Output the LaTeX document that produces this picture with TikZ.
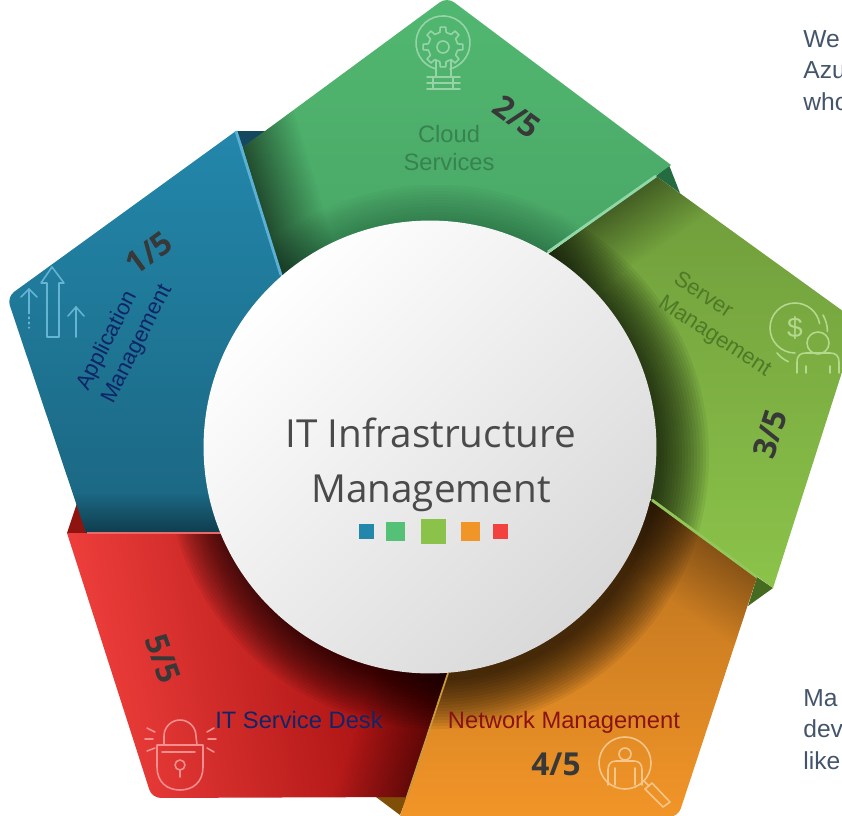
\documentclass[tikz,border=0pt]{standalone}
\usepackage{fontspec}
\setmainfont{Liberation Sans}
\newfontfamily\hubfont{Open Sans}
\usepackage{tikz}
\usetikzlibrary{fadings}
\usetikzlibrary{positioning}
\definecolor{bluepad}{HTML}{2387AB}
\definecolor{greenpad}{HTML}{55C176}
\definecolor{olivepad}{HTML}{8BC34A}
\definecolor{orangepad}{HTML}{F29528}
\definecolor{redpad}{HTML}{F2413E}
\definecolor{navytext}{HTML}{0F2568}
\definecolor{sidetext}{HTML}{44546A}
\definecolor{hubtext}{HTML}{4A4A4A}
\definecolor{counttext}{HTML}{383838}
\tikzfading[name=edgefade, top color=transparent!0, bottom color=transparent!100]
\tikzstyle{label} = [align=left, inner sep=0pt, font=\fontsize{12.6}{16}\selectfont]
\tikzstyle{count} = [inner sep=0pt, text=counttext, font=\hubfont\bfseries\fontsize{18}{20}\selectfont]
\tikzstyle{side} = [align=left, anchor=north west, inner sep=0pt, text=sidetext, font=\fontsize{14}{18}\selectfont]
\tikzstyle{pad} = [rectangle, inner sep=0pt]
\tikzstyle{icon} = [line width=0.9pt, line cap=round, line join=round]
\tikzstyle{strip} = [line width=1.6pt]
\tikzstyle{shadow} = [black, path fading=edgefade]
\tikzstyle{ring} = [black, opacity=0.06]
\begin{document}
\begin{tikzpicture}[x=0.02cm, y=-0.02cm]
        \useasboundingbox (0,0) rectangle (842,815);
        \clip (0,0) rectangle (842,815);
        % flaps
        \fill [color={rgb,255:red,21;green,72;blue,95}] (236,131) -- (268,131) -- (243,148) -- cycle;
        \fill [color={rgb,255:red,37;green,107;blue,65}] (669,165) -- (656,176) -- (680,193) -- cycle;
        \fill [color={rgb,255:red,69;green,107;blue,32}] (757,577) -- (773,588) -- (748,606) -- cycle;
        \fill [color={rgb,255:red,127;green,78;blue,7}] (376,797) -- (407,797) -- (400,815) -- cycle;
        \fill [color={rgb,255:red,143;green,20;blue,16}] (67,533) -- (77,503) -- (87,533) -- cycle;
        % red
        \begin{scope}
                \clip (67,533) [rounded corners=5pt] -- (152,798) [sharp corners] -- (407,797) -- (480,580) -- (480,533) -- cycle;
                \shade [left color=redpad, right color=red!55!black!95!redpad, shading angle=100] (60,530) rectangle (480,800);
                \foreach \r in {224,227,...,272}
                        \fill [ring] (437,457) circle (\r);
                \fill [shadow, opacity=0.4, transform canvas={shift={(400,815)}, rotate=-108.7}] (-180,0) rectangle (30,70);
        \end{scope}
        % orange
        \begin{scope}
                \clip (652,500) -- (757,577) [rounded corners=5pt] -- (678,817) [sharp corners] -- (400,816) -- (448,673) -- (500,560) -- cycle;
                \shade [top color=orangepad!75!black, bottom color=orangepad] (400,500) rectangle (760,816);
                \foreach \r in {224,227,...,272}
                        \fill [ring] (437,457) circle (\r);
                \fill [shadow, opacity=0.3, transform canvas={shift={(652,500)}, rotate=-36}] (-50,0) rectangle (200,70);
        \end{scope}
        % olive
        \begin{scope}
                \clip (656,176) [rounded corners=5pt] -- (858,322) [sharp corners] -- (773,588) -- (652,500) -- (540,400) -- (540,260) -- cycle;
                \shade [top color=olivepad!80!black, bottom color=olivepad] (540,176) rectangle (860,588);
                \foreach \r in {224,227,...,272}
                        \fill [ring] (437,457) circle (\r);
                \fill [shadow, opacity=0.4, transform canvas={shift={(548,252)}, rotate=35}] (-50,0) rectangle (250,60);
        \end{scope}
        % green
        \begin{scope}
                \clip (242,148) [rounded corners=5pt] -- (447,-3) [sharp corners] -- (671,165) -- (548,252) -- (430,320) -- (281,275) -- cycle;
                \shade [top color=greenpad!95!black, bottom color=greenpad!85!black] (240,0) rectangle (672,300);
                \foreach \r in {224,227,...,272}
                        \fill [ring, opacity=0.02] (437,457) circle (\r);
                \fill [shadow, opacity=0.55, transform canvas={shift={(243,148)}, rotate=106.7}] (-200,0) rectangle (50,60);
        \end{scope}
        % blue
        \begin{scope}
                \clip (236,131) [rounded corners=5pt] -- (7,297) [sharp corners] -- (86,533) -- (300,533) -- (281,275) -- cycle;
                \shade [top color=bluepad, bottom color=bluepad!75!black] (5,131) rectangle (300,533);
                \fill [shadow, opacity=0.4, transform canvas={shift={(86,533)}, rotate=180}] (-150,0) rectangle (20,40);
        \end{scope}
        % strips
        \draw [strip, color={rgb,255:red,90;green,176;blue,213}] (236,131) -- (281,275);
        \draw [strip, color={rgb,255:red,143;green,217;blue,168}] (548,252) -- (656,176);
        \draw [strip, color={rgb,255:red,147;green,199;blue,90}] (652,500) -- (757,577);
        \draw [strip, line width=1pt, color={rgb,255:red,201;green,155;blue,61}] (448,673) -- (407,797);
        \draw [strip, line width=1pt, color={rgb,255:red,232;green,107;blue,107}] (87,533) -- (222,533);
        % hub
        \node (hub) [circle, minimum size=9.06cm, inner sep=0pt, top color=white, bottom color=black!15, shading angle=45] at (430,447) {};
        \node (title) [align=center, inner sep=0pt, text=hubtext, font=\hubfont\fontsize{22}{31}\selectfont] at (431,465) {IT Infrastructure\\Management};
        \node (padblue) [pad, fill=bluepad, minimum size=0.3cm] at (366,531.5) {};
        \node (padgreen) [pad, fill=greenpad, minimum size=0.38cm] at (395.5,531.5) {};
        \node (padolive) [pad, fill=olivepad, minimum size=0.5cm] at (433.5,531.5) {};
        \node (padorange) [pad, fill=orangepad, minimum size=0.38cm] at (470.5,531.5) {};
        \node (padred) [pad, fill=redpad, minimum size=0.3cm] at (500.5,531.5) {};
        % labels
        \node (appl) [label, text=navytext, rotate=63] at (125,338) {Application\\Management};
        \node (cloud) [label, align=center, text={rgb,255:red,55;green,131;blue,79}, font=\fontsize{13.5}{16}\selectfont] at (449,148) {Cloud\\Services};
        \node (server) [label, text={rgb,255:red,78;green,122;blue,40}, rotate=-33] at (722,325) {Server\\Management};
        \node (network) [label, text={rgb,255:red,139;green,18;blue,18}, font=\fontsize{13.5}{16}\selectfont] at (564,722) {Network Management};
        \node (desk) [label, text=navytext, font=\fontsize{13.5}{16}\selectfont] at (299,720) {IT Service Desk};
        \node (one) [count, rotate=36] at (149,253) {1/5};
        \node (two) [count, rotate=-36] at (517,117) {2/5};
        \node (three) [count, rotate=72] at (770,434) {3/5};
        \node (four) [count] at (556,764) {4/5};
        \node (five) [count, rotate=-70] at (163,659) {5/5};
        \node (topnote) [side] at (803,30) {We\\Azu\\who};
        \node (lownote) [side] at (803,689) {Ma\\dev\\like};
        % arrows icon
        \begin{scope}[icon, color={rgb,255:red,100;green,180;blue,212}]
                \draw (52,267) -- (64,283) -- (59,283) -- (59,337) -- (47,337) -- (47,283) -- (41,283) -- cycle;
                \draw (21,297) -- (29,289) -- (37,297);
                \draw (29,289) -- (29,312);
                \draw [dotted] (29,312) -- (29,328);
                \draw (68,316) -- (76,307) -- (84,316);
                \draw (76,307) -- (76,337);
        \end{scope}
        % bulb icon
        \begin{scope}[icon, color={rgb,255:red,150;green,212;blue,168}]
                \coordinate (gear) at (443,47);
                \draw (436,69) arc (105:435:27) -- (451,69);
                \draw (gear) circle (6);
                \foreach \a in {0,45,...,315}
                        \draw ([shift={(\a-12:15)}]gear) -- ([shift={(\a-8:20)}]gear) -- ([shift={(\a+8:20)}]gear) -- ([shift={(\a+12:15)}]gear) -- ([shift={(\a+33:15)}]gear);
                \draw (436,60) -- (436,77);
                \draw (451,60) -- (451,77);
                \draw (427,77) -- (460,77);
                \draw (427,83) -- (460,83);
                \draw (427,89) -- (460,89);
                \draw (433,77) -- (433,89);
                \draw (453,77) -- (453,89);
        \end{scope}
        % coin and person icon
        \begin{scope}[icon, color={rgb,255:red,180;green,216;blue,140}]
                \draw (795,353) arc (90:350:25);
                \draw (777,353) arc (140:115:33);
                \draw (823,315) arc (-30:0:33);
                \node (dollar) [inner sep=0pt, text={rgb,255:red,180;green,216;blue,140}, font=\fontsize{16}{18}\selectfont] at (795,328) {\$};
                \draw (818,343) circle (11);
                \draw (797,373) -- (797,362) .. controls (797,355) and (801,353) .. (806,353) -- (830,353) .. controls (836,353) and (839,356) .. (839,362) -- (839,373);
                \draw (806,366) -- (806,373);
                \draw (830,366) -- (830,373);
        \end{scope}
        % magnifier icon
        \begin{scope}[icon, color={rgb,255:red,245;green,198;blue,138}]
                \draw (625,763) circle (26);
                \draw (625,754) circle (6);
                \draw (608,785) -- (608,770) .. controls (608,764) and (611,761) .. (616,761) -- (634,761) .. controls (639,761) and (642,764) .. (642,770) -- (642,785);
                \draw (615,768) -- (615,785);
                \draw (635,768) -- (635,785);
                \draw (644,781) -- (649,786);
                \draw (652,783) -- (670,802) -- (663,807) -- (645,789) -- cycle;
        \end{scope}
        % lock icon
        \begin{scope}[icon, color={rgb,255:red,245;green,143;blue,143}]
                \draw (157,745) -- (203,745) -- (203,767) .. controls (203,782) and (193,790) .. (180,790) .. controls (167,790) and (157,782) .. (157,767) -- cycle;
                \draw (164,745) -- (164,736) arc (180:360:16) -- (197,745);
                \draw (162,752) -- (195,752);
                \draw (180,765) circle (5);
                \draw (180,770) -- (180,777);
                \draw (147,728) -- (155,732);
                \draw (145,739) -- (153,739);
                \draw (147,751) -- (155,748);
                \draw (207,732) -- (214,728);
                \draw (208,739) -- (216,739);
                \draw (207,748) -- (214,752);
        \end{scope}
\end{tikzpicture}
\end{document}
